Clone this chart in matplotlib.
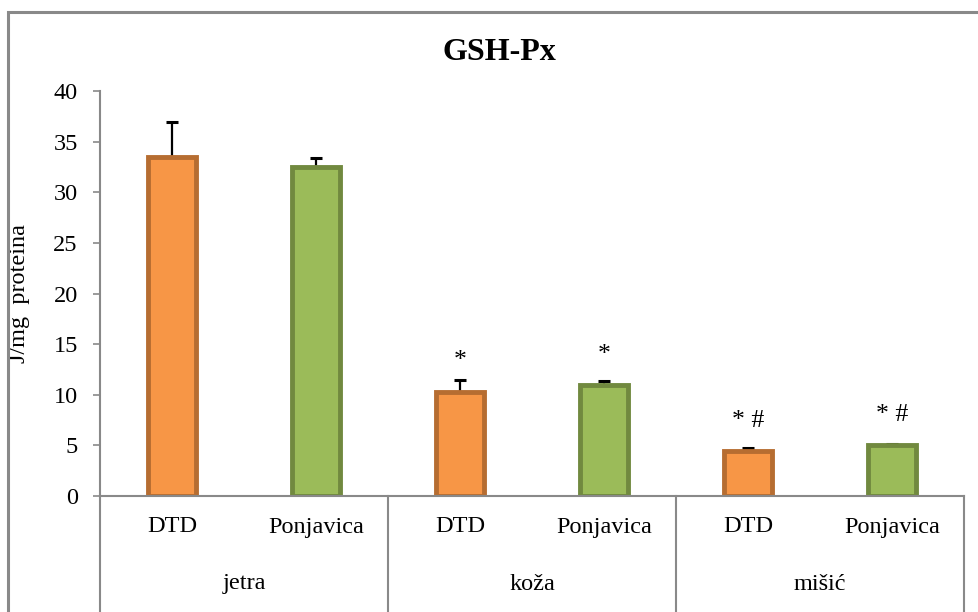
import numpy as np
import matplotlib.pyplot as plt
from matplotlib.patches import Rectangle

plt.rcParams['font.family'] = ['Liberation Serif', 'DejaVu Serif']

# data
groups = ['jetra', 'koža', 'mišić']
series = ['DTD', 'Ponjavica']
dtd = [33.5, 10.3, 4.4]
dtd_err = [3.4, 1.2, 0.35]
ponj = [32.5, 10.95, 5.0]
ponj_err = [0.9, 0.45, 0.12]
dtd_marks = ['', '*', '* #']
ponj_marks = ['', '*', '* #']

fig = plt.figure(figsize=(9.79, 6.12), dpi=100)
W, H = 979, 612
ax = fig.add_axes([100 / W, 1 - 496 / H, (964 - 100) / W, (496 - 91) / H])

gray = '#898989'
fs = 17.5
x_dtd = np.arange(len(groups)) * 2 + 0.5
x_pon = x_dtd + 1
bw = 0.335

ax.bar(x_dtd, dtd, bw, color='#F79646', edgecolor='#B66D31', linewidth=3.5, zorder=2)
ax.bar(x_pon, ponj, bw, color='#9BBB59', edgecolor='#71893F', linewidth=3.5, zorder=2)
# error bars go behind the bars so only the upper half shows
ax.errorbar(x_dtd, dtd, yerr=[np.zeros(3), dtd_err], fmt='none', ecolor='black',
            elinewidth=1.6, capsize=4.5, capthick=2.2, zorder=1.5)
ax.errorbar(x_pon, ponj, yerr=[np.zeros(3), ponj_err], fmt='none', ecolor='black',
            elinewidth=1.6, capsize=4.5, capthick=2.2, zorder=1.5)

for x, v, m in zip(x_dtd, dtd, dtd_marks):
    ax.text(x, v + 3.0, m, ha='center', va='center', fontsize=fs + 1)
for x, v, m in zip(x_pon, ponj, ponj_marks):
    ax.text(x, v + 3.0, m, ha='center', va='center', fontsize=fs + 1)

ax.set_xlim(0, 6)
ax.set_ylim(0, 40)
ax.set_yticks(np.arange(0, 41, 5))
ax.tick_params(axis='y', labelsize=fs, color=gray, length=5, width=1.2, pad=11)
ax.set_xticks([])
for s in ['top', 'right']:
    ax.spines[s].set_visible(False)
for s in ['left', 'bottom']:
    ax.spines[s].set_color(gray)
    ax.spines[s].set_linewidth(1.5)

# category box below the axis
tr = ax.get_xaxis_transform()
low = -(H - 496) / (496 - 91) - 0.01
for xd in [0, 2, 4, 6]:
    ax.plot([xd, xd], [0, low], color=gray, lw=1.5, transform=tr, clip_on=False)
for x in x_dtd:
    ax.text(x, -(527 - 496) / 405, 'DTD', ha='center', va='center', fontsize=fs, transform=tr)
for x in x_pon:
    ax.text(x, -(527 - 496) / 405, 'Ponjavica', ha='center', va='center', fontsize=fs, transform=tr)
for i, g in enumerate(groups):
    ax.text(2 * i + 1, -(584 - 496) / 405, g, ha='center', va='center', fontsize=fs, transform=tr)

ax.set_ylabel('J/mg  proteina', fontsize=fs)
ax.yaxis.set_label_coords(-(100 - 30) / (964 - 100), 0.5)

fig.text(499 / W, 1 - 53 / H, 'GSH-Px', ha='center', va='center',
         fontsize=23, fontweight='bold')

# outer chart frame (cut off at right and bottom)
fig.patches.append(Rectangle((8 / W, -0.05), 1.2, 1 - 12 / H + 0.05,
                             transform=fig.transFigure, fill=False,
                             edgecolor=gray, linewidth=2.2))

plt.savefig('out.png', dpi=100)
